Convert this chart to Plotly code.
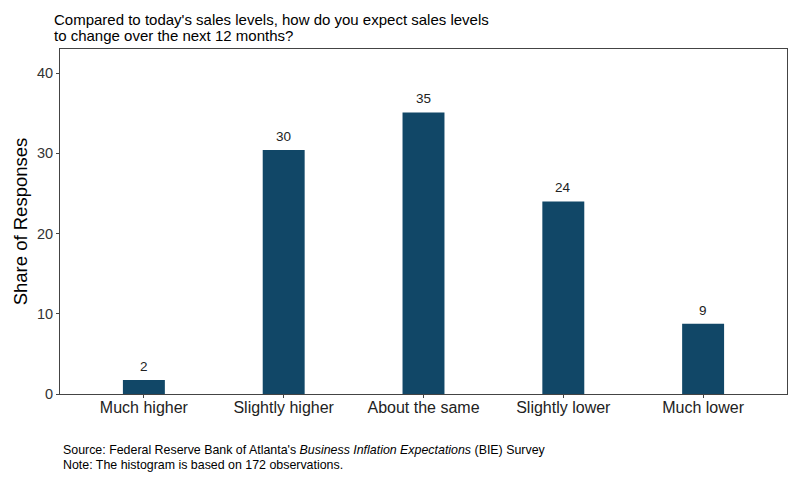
import plotly.graph_objects as go

categories = ["Much higher", "Slightly higher", "About the same", "Slightly lower", "Much lower"]
shares = [1.75, 30.4, 35.1, 24.0, 8.75]
labels = ["2", "30", "35", "24", "9"]
title_lines = ["Compared to today's sales levels, how do you expect sales levels",
               "to change over the next 12 months?"]
caption_lines = ["Source: Federal Reserve Bank of Atlanta's <i>Business Inflation Expectations</i> (BIE) Survey",
                 "Note: The histogram is based on 172 observations."]

FONT = "Arial, Liberation Sans, sans-serif"
BAR = "#114767"

fig = go.Figure()
fig.add_trace(go.Bar(x=categories, y=shares, marker=dict(color=BAR, line=dict(width=0)),
                     width=0.3, hoverinfo="skip"))

for c, v, t in zip(categories, shares, labels):
    fig.add_annotation(x=c, y=v, text=t, showarrow=False, yanchor="bottom", yshift=4,
                       font=dict(family=FONT, size=13.5, color="#222"))

# title lines (pixel positions via paper coords: plot area y 49..394)
H = 487 - 49 - 93
for i, (line, ypx) in enumerate(zip(title_lines, [19, 36])):
    fig.add_annotation(xref="paper", yref="paper", x=-8 / 727, y=1 + (49 - ypx) / H,
                       xanchor="left", yanchor="middle", align="left", showarrow=False,
                       text=line, font=dict(family=FONT, size=15, color="#000"))

for line, ypx in zip(caption_lines, [449.5, 464.5]):
    fig.add_annotation(xref="paper", yref="paper", x=1 / 727, y=-(ypx - 394) / H,
                       xanchor="left", yanchor="middle", align="left", showarrow=False,
                       text=line, font=dict(family=FONT, size=12.4, color="#000"))

fig.update_layout(
    width=806, height=487,
    margin=dict(l=60, r=19, t=49, b=93),
    plot_bgcolor="white", paper_bgcolor="white",
    showlegend=False, bargap=0.7,
    font=dict(family=FONT),
)
fig.update_xaxes(showline=True, linecolor="#444", linewidth=1, mirror=True,
                 ticks="outside", ticklen=3, tickcolor="#444",
                 tickfont=dict(family=FONT, size=16, color="#222"),
                 ticklabelstandoff=-4,
                 range=[-0.6, 4.6], showgrid=False)
fig.update_yaxes(showline=True, linecolor="#444", linewidth=1, mirror=True,
                 ticks="outside", ticklen=3, tickcolor="#444",
                 tickfont=dict(family=FONT, size=14.5, color="#333"),
                 range=[0, 43], tickvals=[0, 10, 20, 30, 40], showgrid=False, zeroline=False,
                 title=dict(text="Share of Responses", font=dict(family=FONT, size=18.5, color="#000"), standoff=4))

fig.write_html("out.html")
